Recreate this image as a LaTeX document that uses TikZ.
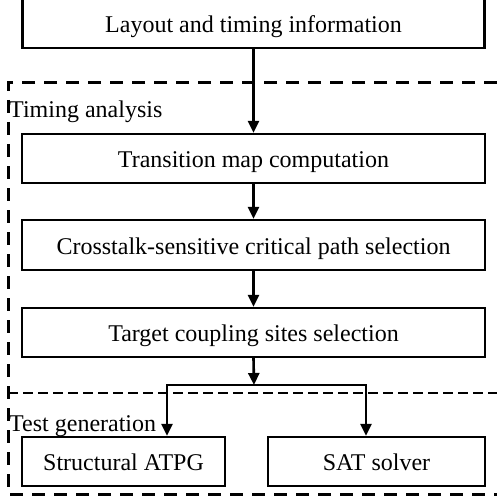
\documentclass[tikz,border=0pt]{standalone}
\usepackage{fontspec}
\setmainfont{Liberation Serif}
\usetikzlibrary{arrows.meta}
\begin{document}
\begin{tikzpicture}[x=1pt,y=-1pt,
 box/.style={draw,line width=2.2pt,minimum height=49pt,inner sep=0pt,text height=20pt,text depth=2pt,font=\fontsize{24}{28}\selectfont},
 arr/.style={line width=2.6pt,-{Triangle[length=12pt,width=11pt]}},
 region/.style={line width=3pt,dash pattern=on 13pt off 9pt},
 lab/.style={font=\fontsize{24}{28}\selectfont,inner sep=0pt,anchor=base west}]
\useasboundingbox (0,0) rectangle (497,497);
\node[box,minimum width=462pt,minimum height=52pt,text height=24pt] (top) at (253.5,22) {Layout and timing information};
\node[box,minimum width=463pt] (trans) at (253.5,158.5) {Transition map computation};
\node[box,minimum width=463pt,minimum height=50pt] (cross) at (253.5,245) {Crosstalk-sensitive critical path selection};
\node[box,minimum width=463pt] (target) at (253.5,332.5) {Target coupling sites selection};
\node[box,minimum width=203pt] (atpg) at (123.5,461.5) {Structural ATPG};
\node[box,minimum width=217pt] (sat) at (376.5,461.5) {SAT solver};
\coordinate (j) at (254,385);
\coordinate (jl) at (167,385);
\coordinate (jr) at (366,385);
\draw[region] (497,83) -- (8,83) -- (8,494) -- (497,494);
\draw[region,line width=2.6pt,dash pattern=on 10pt off 5pt] (8,393) -- (497,393);
\node[lab] (tl) at (9,118) {Timing analysis};
\node[lab] (tg) at (9,431) {Test generation};
\draw[arr] (top.south) -- (trans.north);
\draw[arr] (trans.south) -- (cross.north);
\draw[arr] (cross.south) -- (target.north);
\draw[arr] (target.south) -- (j);
\draw[arr] (j) -| (jl |- atpg.north);
\draw[arr] (j) -| (jr |- sat.north);
\end{tikzpicture}
\end{document}
